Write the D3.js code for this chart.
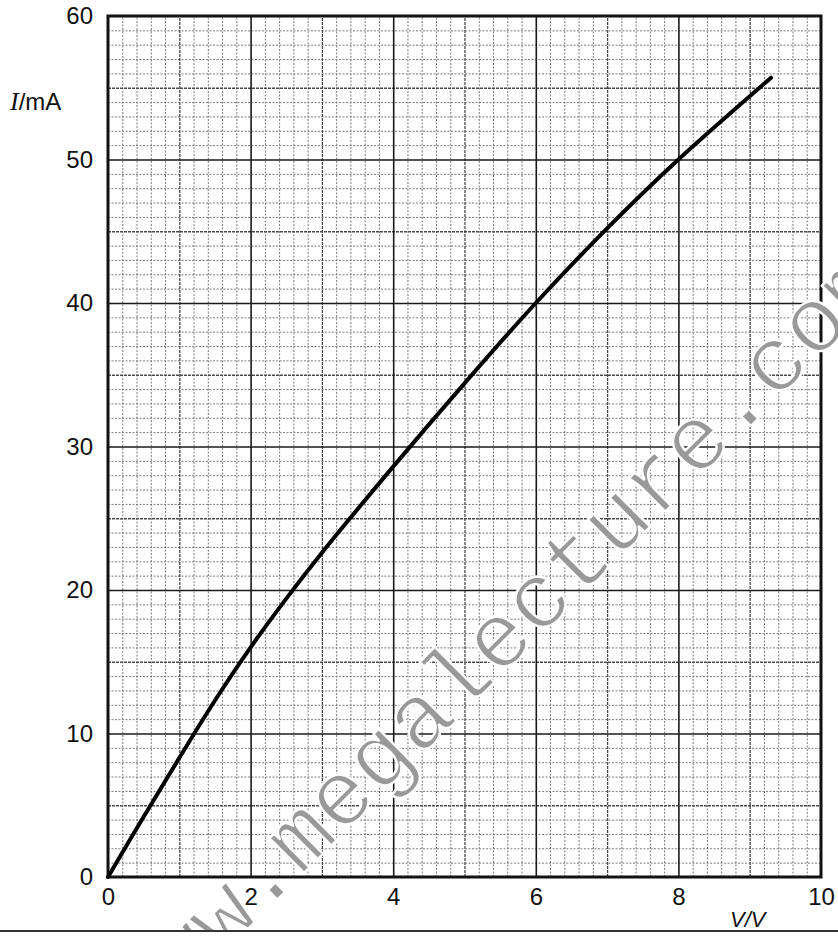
<!DOCTYPE html>
<html>
<head>
<meta charset="utf-8">
<script src="https://cdn.jsdelivr.net/npm/d3@7"></script>
<style>
  html, body { margin: 0; padding: 0; background: #fff; }
  svg { display: block; }
</style>
</head>
<body>
<svg id="chart" width="838" height="936"></svg>
<script>
// ---- data ----
const voltage = [0, 0.5, 1, 1.5, 2, 2.5, 3, 4, 5, 6, 7, 8, 9.3];
const current = [0, 4.2, 8.3, 12.3, 16.0, 19.4, 22.6, 28.6, 34.4, 40.0, 45.2, 50.0, 55.7];
const xTicks = [0, 2, 4, 6, 8, 10];
const yTicks = [0, 10, 20, 30, 40, 50, 60];
const xLabel = "V/V";
const yLabelItalic = "I";
const yLabelRest = "/mA";
const watermark = "www.megalecture.com";

const SANS = "'Liberation Sans', Arial, sans-serif";
const svg = d3.select("#chart");
const W = 838, H = 936;
const m = { left: 108, right: 821, top: 16, bottom: 877 };

const x = d3.scaleLinear().domain([0, 10]).range([m.left, m.right]);
const y = d3.scaleLinear().domain([0, 60]).range([m.bottom, m.top]);
const pw = m.right - m.left, ph = m.bottom - m.top;

svg.append("rect").attr("width", W).attr("height", H).attr("fill", "#fff");

// ---- grid ----
const minorX = d3.range(0, 10.0001, 0.2).filter(v => Math.abs(v - Math.round(v)) > 1e-6);
const midX = d3.range(1, 10, 2);
const majorX = [2, 4, 6, 8];
const minorY = d3.range(0, 60.0001, 1).filter(v => v % 5 !== 0);
const midY = d3.range(5, 60, 10);
const majorY = [10, 20, 30, 40, 50];

function gridX(vals, cls, color, width, dash) {
  const g = svg.append("g").attr("class", cls)
    .attr("transform", `translate(0,${m.bottom})`)
    .call(d3.axisBottom(x).tickValues(vals).tickSize(-ph).tickFormat(""));
  g.select(".domain").remove();
  g.selectAll("line").attr("stroke", color).attr("stroke-width", width)
    .attr("stroke-dasharray", dash);
}
function gridY(vals, cls, color, width, dash) {
  const g = svg.append("g").attr("class", cls)
    .attr("transform", `translate(${m.left},0)`)
    .call(d3.axisLeft(y).tickValues(vals).tickSize(-pw).tickFormat(""));
  g.select(".domain").remove();
  g.selectAll("line").attr("stroke", color).attr("stroke-width", width)
    .attr("stroke-dasharray", dash);
}
gridX(minorX, "minor-x", "#7a7a7a", 1, "2,1.5");
gridY(minorY, "minor-y", "#7a7a7a", 1, "2,1.5");
gridX(midX, "mid-x", "#4a4a4a", 1.3, "3,1");
gridY(midY, "mid-y", "#4a4a4a", 1.3, "3,1");
gridX(majorX, "major-x", "#1a1a1a", 1.6, null);
gridY(majorY, "major-y", "#1a1a1a", 1.6, null);

// border
svg.append("rect")
  .attr("x", m.left).attr("y", m.top).attr("width", pw).attr("height", ph)
  .attr("fill", "none").attr("stroke", "#111").attr("stroke-width", 3);

// ---- axes labels ----
const ax = svg.append("g").attr("transform", `translate(0,${m.bottom})`)
  .call(d3.axisBottom(x).tickValues(xTicks).tickSize(0).tickPadding(11).tickFormat(d3.format("d")));
ax.select(".domain").remove();
ax.selectAll("text").attr("fill", "#111")
  .style("font-family", SANS).style("font-size", "24px");

const ay = svg.append("g").attr("transform", `translate(${m.left},0)`)
  .call(d3.axisLeft(y).tickValues(yTicks).tickSize(0).tickPadding(15).tickFormat(d3.format("d")));
ay.select(".domain").remove();
ay.selectAll("text").attr("fill", "#111")
  .style("font-family", SANS).style("font-size", "24px");

// y-axis title
const yt = svg.append("text").attr("x", 10).attr("y", 110).attr("fill", "#111")
  .style("font-family", SANS).style("font-size", "24px");
yt.append("tspan").style("font-family", "'Liberation Serif', serif").style("font-style", "italic")
  .style("font-size", "26px").text(yLabelItalic);
yt.append("tspan").text(yLabelRest);

// x-axis title
svg.append("text").attr("x", 730).attr("y", 927).attr("fill", "#111")
  .style("font-family", SANS).style("font-size", "22px").style("font-style", "italic")
  .text(xLabel);

// ---- curve ----
const pts = voltage.map((v, i) => [v, current[i]]);
svg.append("path").datum(pts)
  .attr("fill", "none").attr("stroke", "#000").attr("stroke-width", 4)
  .attr("stroke-linecap", "round").attr("stroke-linejoin", "round")
  .attr("d", d3.line().x(d => x(d[0])).y(d => y(d[1])).curve(d3.curveCatmullRom));

// ---- watermark (thin grey monospace) ----
svg.append("text")
  .attr("transform", "translate(143,1034) rotate(-45)")
  .attr("fill", "#999")
  .attr("stroke", "#fff").attr("stroke-width", 2.4)
  .attr("stroke-linejoin", "round")
  .style("paint-order", "fill")
  .style("font-family", "'Liberation Mono', 'Courier New', monospace")
  .style("font-size", "93px")
  .text(watermark);

// bottom rule
svg.append("rect").attr("x", 0).attr("y", 931).attr("width", W).attr("height", 5).attr("fill", "#fff");
svg.append("line").attr("x1", 0).attr("x2", W).attr("y1", 931).attr("y2", 931)
  .attr("stroke", "#333").attr("stroke-width", 2);
</script>
</body>
</html>
